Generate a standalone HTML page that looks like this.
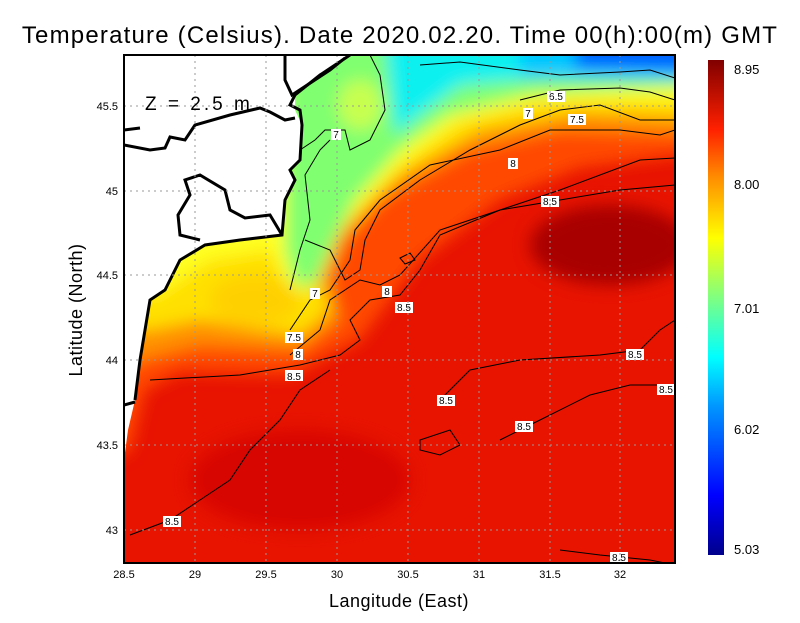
<!DOCTYPE html>
<html><head><style>
body{margin:0;background:#fff;width:800px;height:618px;overflow:hidden;font-family:"Liberation Sans",sans-serif}
</style></head><body>
<svg width="800" height="618" xmlns="http://www.w3.org/2000/svg" font-family="Liberation Sans, sans-serif">
<defs>
<clipPath id="c"><rect x="124" y="55" width="551" height="508"/></clipPath>
<filter id="b" x="-20%" y="-20%" width="140%" height="140%"><feGaussianBlur stdDeviation="8"/></filter>
<linearGradient id="cb" x1="0" y1="1" x2="0" y2="0">
<stop offset="0" stop-color="#00008c"/><stop offset="0.12" stop-color="#0000ff"/>
<stop offset="0.3" stop-color="#0096ff"/><stop offset="0.4" stop-color="#00ffff"/>
<stop offset="0.52" stop-color="#80ff80"/><stop offset="0.64" stop-color="#ffff00"/>
<stop offset="0.76" stop-color="#ff9000"/><stop offset="0.86" stop-color="#ff2000"/>
<stop offset="1" stop-color="#800000"/></linearGradient>
</defs>
<text x="400" y="43" font-size="24" text-anchor="middle" letter-spacing="1.2">Temperature (Celsius). Date 2020.02.20. Time 00(h):00(m)  GMT</text>
<g clip-path="url(#c)">
<rect x="124" y="55" width="551" height="508" fill="#e81400"/>
<g filter="url(#b)">
<ellipse cx="610" cy="245" rx="80" ry="40" fill="#a80000"/>
<ellipse cx="300" cy="480" rx="110" ry="50" fill="#d00800" opacity="0.7"/>
<path d="M60 480 L130 450 L145 390 L180 372 L290 375 L360 340 L420 260 L500 200 L580 168 L720 150 L720 0 L60 0 Z" fill="#ff4800"/>
<path d="M60 420 L140 360 L200 345 L300 350 L340 320 L330 280 L345 240 L380 200 L470 150 L560 130 L720 135 L720 0 L60 0 Z" fill="#ff9000"/>
<path d="M60 330 L150 330 L200 320 L260 330 L300 335 L330 310 L320 280 L340 235 L400 175 L480 130 L580 112 L720 118 L720 0 L60 0 Z" fill="#ffe000"/>
<path d="M150 300 L210 260 L270 250 L290 290 L300 300 L320 260 L345 220 L400 165 L460 120 L540 100 L720 100 L720 0 L60 0 Z" fill="#ffff20"/>
<path d="M285 250 L295 285 L315 285 L335 240 L355 200 L400 150 L450 115 L530 95 L720 85 L720 0 L285 0 Z" fill="#80ff70"/>
<path d="M395 135 L420 115 L460 85 L540 78 L720 72 L720 0 L380 0 Z" fill="#10f0f0"/>
<path d="M520 78 L720 80 L720 0 L520 0 Z" fill="#00c8ff"/>
<path d="M575 68 L720 72 L720 0 L575 0 Z" fill="#0060ff"/>
<ellipse cx="360" cy="105" rx="22" ry="25" fill="#c8ff50"/>
<ellipse cx="255" cy="300" rx="45" ry="25" fill="#ffd000"/>
</g>
<!-- land -->
<path d="M124 55 L350 55 L320 75 L295 95 L295 110 L302 125 L300 160 L290 170 L295 180 L285 200 L282 235 L240 240 L205 245 L180 260 L165 290 L150 300 L145 330 L140 360 L135 400 L128 430 L124 460 Z" fill="#fff"/>
<path d="M350 55 L320 75 L295 95 L290 105 L300 110 L302 125 L300 160 L290 170 L295 180 L285 200 L282 235 L240 240 L205 245 L180 260 L165 290 L150 300 L145 330 L140 360 L135 400" fill="none" stroke="#000" stroke-width="3"/>
<path d="M124 145 L150 150 L165 148 L170 137 L185 140 L195 125 L230 115 L260 108 L270 112 L285 120 L295 118" fill="none" stroke="#000" stroke-width="3"/>
<path d="M200 240 L180 235 L178 215 L190 195 L185 180 L200 175 L225 190 L230 210 L245 218 L270 215 L282 235" fill="none" stroke="#000" stroke-width="3"/>
<path d="M285 55 L285 80 L292 95 L330 70 L345 58" fill="none" stroke="#000" stroke-width="3"/>
<path d="M124 405 L135 402 M124 130 L140 128" fill="none" stroke="#000" stroke-width="3"/>
<!-- contours -->
<g fill="none" stroke="#000" stroke-width="1">
<path d="M300 150 L315 140 L325 130 L345 130 L350 150 L370 140 L385 110 L380 75 L370 55"/>
<path d="M290 290 L300 250 L310 220 L305 175 L320 150 L330 140"/>
<path d="M305 240 L330 250 L345 280 L360 270 L365 240 L380 210 L420 180 L470 150 L520 125 L560 110 L600 105 L640 120 L675 120"/>
<path d="M290 330 L310 300 L330 290 L350 260 L355 230 L380 200 L430 165 L500 150 L550 130 L620 130 L660 135 L675 130"/>
<path d="M290 355 L320 330 L330 300 L360 280 L380 285 L400 275 L440 230 L500 210 L560 190 L640 160 L675 158"/>
<path d="M150 380 L240 375 L300 365 L340 355 L360 340 L350 320 L370 300 L400 295 L420 270 L440 235 L500 210 L560 200 L620 190 L675 185"/>
<path d="M440 400 L470 370 L520 360 L600 355 L640 350 L660 330 L675 320"/>
<path d="M500 440 L540 420 L590 395 L630 385 L675 385"/>
<path d="M130 535 L170 520 L200 500 L230 480 L250 450 L280 420 L300 390 L330 370"/>
<path d="M420 440 L450 430 L460 445 L440 455 L420 450 Z"/>
<path d="M560 550 L600 555 L650 560 L675 565"/>
<path d="M400 258 L410 253 L415 260 L405 264 Z"/>
<path d="M420 65 L460 62 L520 70 L560 75 L620 72 L650 70 L675 78"/>
<path d="M520 100 L560 90 L620 88 L650 92 L675 100"/>
</g>
<g font-size="10" text-anchor="middle">
<rect x="331" y="129" width="10" height="11" fill="#fff"/><text x="336" y="138">7</text>
<rect x="310" y="288" width="10" height="11" fill="#fff"/><text x="315" y="297">7</text>
<rect x="285" y="332" width="18" height="11" fill="#fff"/><text x="294" y="341">7.5</text>
<rect x="293" y="349" width="10" height="11" fill="#fff"/><text x="298" y="358">8</text>
<rect x="285" y="370" width="18" height="11" fill="#fff"/><text x="294" y="380">8.5</text>
<rect x="382" y="286" width="10" height="11" fill="#fff"/><text x="387" y="295">8</text>
<rect x="395" y="302" width="18" height="11" fill="#fff"/><text x="404" y="311">8.5</text>
<rect x="508" y="158" width="10" height="11" fill="#fff"/><text x="513" y="167">8</text>
<rect x="541" y="196" width="18" height="11" fill="#fff"/><text x="550" y="205">8.5</text>
<rect x="547" y="91" width="18" height="11" fill="#fff"/><text x="556" y="100">6.5</text>
<rect x="523" y="108" width="10" height="11" fill="#fff"/><text x="528" y="117">7</text>
<rect x="568" y="114" width="18" height="11" fill="#fff"/><text x="577" y="123">7.5</text>
<rect x="626" y="349" width="18" height="11" fill="#fff"/><text x="635" y="358">8.5</text>
<rect x="657" y="384" width="18" height="11" fill="#fff"/><text x="666" y="393">8.5</text>
<rect x="437" y="395" width="18" height="11" fill="#fff"/><text x="446" y="404">8.5</text>
<rect x="515" y="421" width="18" height="11" fill="#fff"/><text x="524" y="430">8.5</text>
<rect x="163" y="516" width="18" height="11" fill="#fff"/><text x="172" y="525">8.5</text>
<rect x="610" y="552" width="18" height="11" fill="#fff"/><text x="619" y="561">8.5</text>
</g>
<g stroke="#999" stroke-width="1" stroke-dasharray="2,4">
<line x1="195" y1="55" x2="195" y2="563"/><line x1="266" y1="55" x2="266" y2="563"/>
<line x1="337" y1="55" x2="337" y2="563"/><line x1="408" y1="55" x2="408" y2="563"/>
<line x1="479" y1="55" x2="479" y2="563"/><line x1="550" y1="55" x2="550" y2="563"/>
<line x1="620" y1="55" x2="620" y2="563"/>
<line x1="124" y1="106" x2="675" y2="106"/><line x1="124" y1="191" x2="675" y2="191"/>
<line x1="124" y1="275" x2="675" y2="275"/><line x1="124" y1="360" x2="675" y2="360"/>
<line x1="124" y1="445" x2="675" y2="445"/><line x1="124" y1="530" x2="675" y2="530"/>
</g>
</g>
<text x="145" y="110" font-size="19" letter-spacing="3">Z = 2.5 m</text>
<rect x="124" y="55" width="551" height="508" fill="none" stroke="#000" stroke-width="2"/>
<g font-size="11" text-anchor="middle">
<text x="124" y="578">28.5</text><text x="195" y="578">29</text><text x="266" y="578">29.5</text>
<text x="337" y="578">30</text><text x="408" y="578">30.5</text><text x="479" y="578">31</text>
<text x="550" y="578">31.5</text><text x="620" y="578">32</text>
</g>
<g font-size="11" text-anchor="end">
<text x="118" y="110">45.5</text><text x="118" y="195">45</text><text x="118" y="279">44.5</text>
<text x="118" y="364">44</text><text x="118" y="449">43.5</text><text x="118" y="534">43</text>
</g>
<text x="399" y="607" font-size="18" text-anchor="middle" letter-spacing="0.5">Langitude (East)</text>
<text transform="translate(82,310) rotate(-90)" font-size="18" text-anchor="middle" letter-spacing="0.5">Latitude (North)</text>
<rect x="708" y="60" width="16" height="495" fill="url(#cb)"/>
<g font-size="13">
<text x="734" y="74">8.95</text><text x="734" y="189">8.00</text>
<text x="734" y="313">7.01</text><text x="734" y="434">6.02</text><text x="734" y="554">5.03</text>
</g>
</svg>
</body></html>
